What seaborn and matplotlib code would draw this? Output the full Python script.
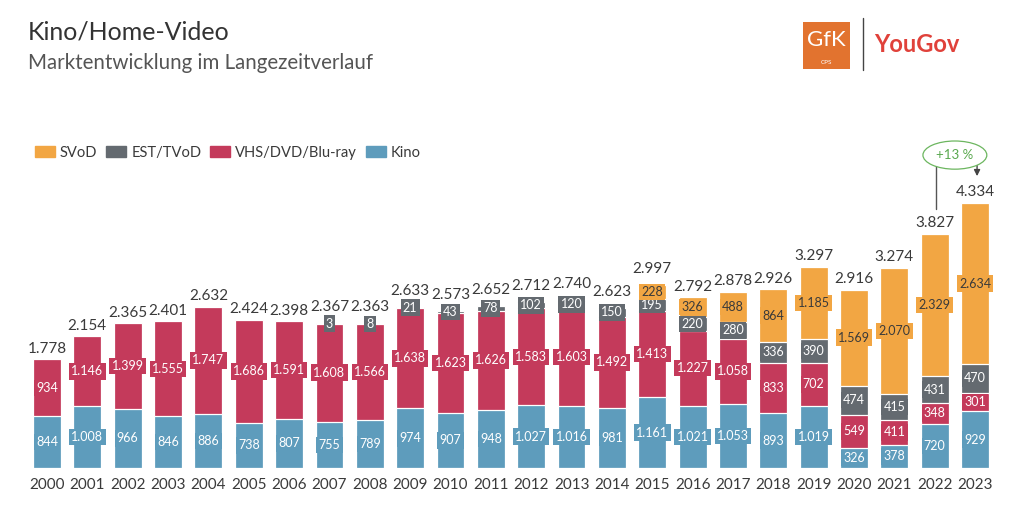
import matplotlib
matplotlib.use("Agg")
import matplotlib.pyplot as plt
import seaborn as sns
import numpy as np
from matplotlib.patches import Patch, Rectangle
from matplotlib.lines import Line2D

years = list(range(2000, 2024))
kino = [844, 1008, 966, 846, 886, 738, 807, 755, 789, 974, 907, 948,
        1027, 1016, 981, 1161, 1021, 1053, 893, 1019, 326, 378, 720, 929]
vhs = [934, 1146, 1399, 1555, 1747, 1686, 1591, 1608, 1566, 1638, 1623, 1626,
       1583, 1603, 1492, 1413, 1227, 1058, 833, 702, 549, 411, 348, 301]
est = [0, 0, 0, 0, 0, 0, 0, 3, 8, 21, 43, 78,
       102, 120, 150, 195, 220, 280, 336, 390, 474, 415, 431, 470]
svod = [0, 0, 0, 0, 0, 0, 0, 0, 0, 0, 0, 0,
        0, 0, 0, 228, 326, 488, 864, 1185, 1569, 2070, 2329, 2634]
# totals as printed (rounded separately in the source)
totals = [1778, 2154, 2365, 2401, 2632, 2424, 2398, 2367, 2363, 2633, 2573, 2652,
          2712, 2740, 2623, 2997, 2792, 2878, 2926, 3297, 2916, 3274, 3827, 4334]

C_SVOD = "#F2A643"
C_EST = "#646A70"
C_VHS = "#C43A5B"
C_KINO = "#5E9CBC"
TXT = "#3a3a3a"


def de(n):
    return f"{n:,}".replace(",", ".")


sns.set_theme(style="white")
plt.rcParams["font.family"] = ["Lato", "DejaVu Sans"]

fig = plt.figure(figsize=(10.24, 5.12), dpi=100)
ax = fig.add_axes([0.0262, 0.0859, 0.9457, 0.573])

k = np.array(kino)
v = np.array(vhs)
e = np.array(est)
s = np.array(svod)
layers = [
    (k + v + e + s, C_SVOD),
    (k + v + e, C_EST),
    (k + v, C_VHS),
    (k, C_KINO),
]
labels = [str(y) for y in years]
for vals, col in layers:
    sns.barplot(x=labels, y=vals, color=col, width=0.69, edgecolor="white",
                linewidth=0.9, saturation=1, ax=ax)

ax.set_xlim(-0.5, 23.5)
ax.set_ylim(0, 4800)
sns.despine(ax=ax, left=True, bottom=True)
ax.set_yticks([])
ax.set_ylabel("")
ax.tick_params(axis="x", length=0, pad=7, labelsize=11, labelcolor=TXT)

# segment labels
segs = [(kino, np.zeros(24), C_KINO, "white"),
        (vhs, k, C_VHS, "white"),
        (est, k + v, C_EST, "white"),
        (svod, k + v + e, C_SVOD, TXT)]
for vals, base, col, tc in segs:
    for i, val in enumerate(vals):
        if val == 0:
            continue
        ax.text(i, base[i] + val / 2, de(val), ha="center", va="center",
                fontsize=9, color=tc, zorder=5,
                bbox=dict(boxstyle="square,pad=0.18", fc=col, ec="none"))

top_seg = np.where(s > 0, s, np.where(e > 0, e, v))
for i, t in enumerate(totals):
    off = 150 if top_seg[i] < 250 else 60
    ax.text(i, (k + v + e + s)[i] + off, de(t), ha="center", va="bottom",
            fontsize=11, color=TXT, zorder=5)

# growth annotation
ax.text(22.5, 5120, "+13 %", ha="center", va="center", fontsize=9.5,
        color="#5aa84f", zorder=6, clip_on=False,
        bbox=dict(boxstyle="ellipse,pad=0.3", fc="white", ec="#6cb65f", lw=0.9))
ax.add_line(Line2D([22.03, 22.03], [4230, 4990], color="#555555", lw=1,
                   clip_on=False))
ax.annotate("", xy=(23.05, 4730), xytext=(23.05, 5010),
            arrowprops=dict(arrowstyle="-|>", color="#444444", lw=1,
                            mutation_scale=9), annotation_clip=False)

# title
fig.text(0.027, 0.937, "Kino/Home-Video", fontsize=18, color="#333333",
         va="center")
fig.text(0.027, 0.877, "Marktentwicklung im Langezeitverlauf", fontsize=14.8,
         color="#555555", va="center")

# legend
handles = [Patch(color=C_SVOD, label="SVoD"),
           Patch(color=C_EST, label="EST/TVoD"),
           Patch(color=C_VHS, label="VHS/DVD/Blu-ray"),
           Patch(color=C_KINO, label="Kino")]
fig.legend(handles=handles, loc="center left", bbox_to_anchor=(0.021, 0.702),
           ncol=4, frameon=False, fontsize=10.6, handlelength=1.35,
           handleheight=0.85, handletextpad=0.35, columnspacing=0.6,
           labelcolor=TXT)

# logos
fig.patches.append(Rectangle((803 / 1024, 1 - 69 / 512), 47 / 1024, 47 / 512,
                             transform=fig.transFigure, fc="#E2732F", ec="none"))
fig.text(826 / 1024, 1 - 40 / 512, "GfK", color="white", fontsize=16,
         ha="center", va="center")
fig.text(826 / 1024, 1 - 62 / 512, "CPS", color="white", fontsize=4.5,
         ha="center", va="center")
fig.add_artist(Line2D([863 / 1024, 863 / 1024], [1 - 70 / 512, 1 - 18 / 512],
                      transform=fig.transFigure, color="#444444", lw=1))
fig.text(874 / 1024, 1 - 45 / 512, "YouGov", color="#E0413A", fontsize=17,
         fontweight="bold", ha="left", va="center")

fig.savefig("out.png", dpi=100)
